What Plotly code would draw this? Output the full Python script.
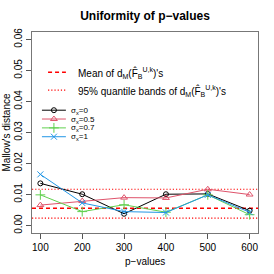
import plotly.graph_objects as go

# ---- data ----
p_values = [100, 200, 300, 400, 500, 600]
sigma_labels = ["σ<sub>x</sub>=0", "σ<sub>x</sub>=0.5", "σ<sub>x</sub>=0.7", "σ<sub>x</sub>=1"]
dist_s0 = [0.0136, 0.0101, 0.0038, 0.0101, 0.0102, 0.0048]
dist_s05 = [0.0066, 0.0079, 0.0090, 0.0089, 0.0117, 0.0100]
dist_s07 = [0.0099, 0.0045, 0.0067, 0.0043, 0.0099, 0.0035]
dist_s1 = [0.0165, 0.0073, 0.0045, 0.0042, 0.0099, 0.0043]
mean_dm = 0.0056
band_low = 0.0024
band_high = 0.0117
y_ticks = [0.00, 0.01, 0.02, 0.03, 0.04, 0.05, 0.06]
x_ticks = [100, 200, 300, 400, 500, 600]

# ---- styles ----
FONT = "Liberation Sans, Arial, Helvetica, sans-serif"
colors = ["#000000", "#DF536B", "#61D04F", "#2297E6"]
symbols = ["circle-open", "triangle-up-open", "cross-thin-open", "x-thin-open"]
msizes = [5, 6, 7, 6]
series = [dist_s0, dist_s05, dist_s07, dist_s1]
RED = "#FF0000"
DASH = "4px,3px"
DOT = "1.2px,2px"

fig = go.Figure()

for vals, col, sym, ms, lab in zip(series, colors, symbols, msizes, sigma_labels):
    fig.add_trace(go.Scatter(
        x=p_values, y=vals, mode="lines+markers", name=lab,
        line=dict(color=col, width=1),
        marker=dict(symbol=sym, size=ms, color=col, line=dict(color=col, width=1)),
        showlegend=False, xaxis="x", yaxis="y",
    ))

# horizontal reference lines
for yv, dsh, w in [(mean_dm, DASH, 1.6), (band_low, DOT, 1.2), (band_high, DOT, 1.2)]:
    fig.add_shape(type="line", xref="x domain", yref="y", x0=0, x1=1, y0=yv, y1=yv,
                  line=dict(color=RED, width=w, dash=dsh), layer="below")

# ---- manual legend on an overlay axis (fractions of the plot area) ----
leg1_rows = [0.800, 0.711]
leg1_texts = ["Mean of d<sub>M</sub>(F\u0302<sub>B</sub><sup>U,k</sup>)'s",
              "95% quantile bands of d<sub>M</sub>(F\u0302<sub>B</sub><sup>U,k</sup>)'s"]
leg1_dash = [DASH, DOT]
leg1_w = [1.6, 1.2]
for yy, dsh, w in zip(leg1_rows, leg1_dash, leg1_w):
    fig.add_trace(go.Scatter(x=[0.071, 0.150], y=[yy, yy], mode="lines",
                             line=dict(color=RED, width=w, dash=dsh),
                             showlegend=False, hoverinfo="skip", xaxis="x2", yaxis="y2"))
for yy, t in zip(leg1_rows, leg1_texts):
    fig.add_annotation(x=0.195, y=yy, xref="x2", yref="y2", text=t, showarrow=False,
                       xanchor="left", yanchor="middle", yshift=-1,
                       font=dict(family=FONT, size=10, color="#000"))

leg2_rows = [0.611, 0.567, 0.523, 0.479]
for yy, col, sym, ms, lab in zip(leg2_rows, colors, symbols, msizes, sigma_labels):
    fig.add_trace(go.Scatter(x=[0.044, 0.150], y=[yy, yy], mode="lines",
                             line=dict(color=col, width=1),
                             showlegend=False, hoverinfo="skip", xaxis="x2", yaxis="y2"))
    fig.add_trace(go.Scatter(x=[0.097], y=[yy], mode="markers",
                             marker=dict(symbol=sym, size=ms, color=col, line=dict(color=col, width=1)),
                             showlegend=False, hoverinfo="skip", xaxis="x2", yaxis="y2"))
    fig.add_annotation(x=0.168, y=yy, xref="x2", yref="y2", text=lab, showarrow=False,
                       xanchor="left", yanchor="middle", yshift=-0.5, borderpad=0,
                       font=dict(family=FONT, size=8, color="#000"))

# axis titles
fig.add_annotation(x=0.5, y=0, xref="paper", yref="paper", text="p\u2212values",
                   showarrow=False, yanchor="middle", yshift=-28,
                   font=dict(family=FONT, size=10, color="#000"))
fig.add_annotation(x=0, y=0.5, xref="paper", yref="paper", text="Mallow's distance",
                   showarrow=False, xanchor="center", xshift=-26, textangle=-90,
                   font=dict(family=FONT, size=10, color="#000"))

axis_common = dict(showgrid=False, zeroline=False, showline=True, mirror=True,
                   linecolor="#777", linewidth=1, ticks="outside", ticklen=5,
                   tickcolor="#555", tickwidth=1, automargin=False,
                   tickfont=dict(family=FONT, size=10, color="#000"))

fig.update_layout(
    width=274, height=274,
    margin=dict(l=32, r=16, t=32, b=41, autoexpand=False),
    paper_bgcolor="white", plot_bgcolor="white",
    title=dict(text="<b>Uniformity of p\u2212values</b>", x=0.5, xref="paper",
               y=1 - 16 / 274, yref="container", yanchor="middle", xanchor="center",
               font=dict(family=FONT, size=12, color="#000"), automargin=False),
    xaxis=dict(range=[80, 620], tickvals=x_ticks, ticktext=[str(v) for v in x_ticks],
               **axis_common),
    yaxis=dict(range=[-0.0024, 0.0624], tickvals=y_ticks,
               ticktext=[f"{v:.2f}" for v in y_ticks], tickangle=-90, **axis_common),
    xaxis2=dict(range=[0, 1], overlaying="x", visible=False, fixedrange=True),
    yaxis2=dict(range=[0, 1], overlaying="y", visible=False, fixedrange=True),
    showlegend=False,
)

fig.write_html("out.html", config={"displayModeBar": False},
               post_script="document.body.style.margin='0';document.body.style.overflow='hidden';")
